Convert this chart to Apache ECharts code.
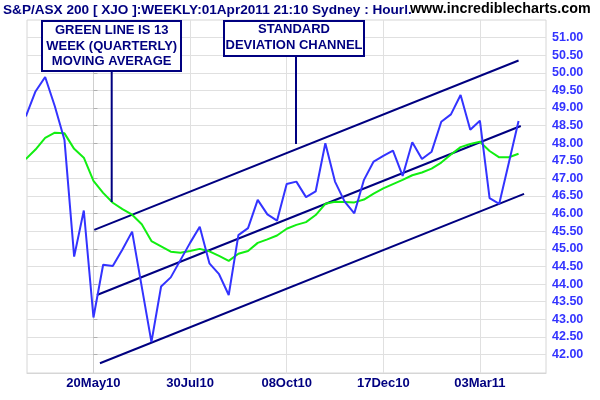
<!DOCTYPE html>
<html>
<head>
<meta charset="utf-8">
<script src="https://cdn.jsdelivr.net/npm/echarts@6/dist/echarts.min.js"></script>
<style>html,body{margin:0;padding:0;background:#fff}#c{width:600px;height:400px}</style>
</head>
<body>
<div id="c"></div>
<script>
// Week index: 0 = week of 20May10, weekly steps
const firstWeek = -7;
const price = [48.76, 49.47, 49.88, 49.05, 48.09, 44.78, 46.09,
  43.05, 44.55, 44.51, 44.98, 45.49, 43.92, 42.35, 43.93, 44.19, 44.68,
  45.17, 45.63, 44.59, 44.28, 43.69, 45.39, 45.59, 46.39, 45.98, 45.80,
  46.84, 46.91, 46.47, 46.63, 48.00, 46.91, 46.34, 46.01, 46.96, 47.48,
  47.64, 47.79, 47.07, 48.03, 47.55, 47.76, 48.61, 48.82, 49.37, 48.38,
  48.64, 46.44, 46.28, 47.45, 48.63];
const ma13 = [47.55, 47.82, 48.15, 48.30, 48.28, 47.84, 47.59,
  46.93, 46.59, 46.31, 46.13, 45.97, 45.70, 45.22, 45.07, 44.92, 44.89,
  44.94, 45.00, 44.93, 44.80, 44.66, 44.86, 44.94, 45.17, 45.27, 45.38,
  45.57, 45.68, 45.76, 45.96, 46.28, 46.34, 46.33, 46.32, 46.40, 46.57,
  46.72, 46.84, 46.96, 47.09, 47.17, 47.28, 47.45, 47.68, 47.89, 47.98,
  48.04, 47.78, 47.60, 47.60, 47.70];
// Standard deviation channel: [week, value] end points
const chanUpper = [[0.08, 45.54], [44.0, 50.35]];
const chanMiddle = [[0.36, 43.69], [44.23, 48.49]];
const chanLower = [[0.67, 41.75], [44.57, 46.56]];
const xTickWeeks = [0, 10, 20, 30, 40];
const xTickLabels = ['20May10', '30Jul10', '08Oct10', '17Dec10', '03Mar11'];
const yTicks = [42, 42.5, 43, 43.5, 44, 44.5, 45, 45.5, 46, 46.5, 47, 47.5, 48, 48.5, 49, 49.5, 50, 50.5, 51];
const titleText = 'S&P/ASX 200 [ XJO ]:WEEKLY:01Apr2011 21:10 Sydney : Hourl.';
const siteText = 'www.incrediblecharts.com';
const note1 = ['GREEN LINE IS 13', 'WEEK (QUARTERLY)', 'MOVING AVERAGE'];
const note2 = ['STANDARD', 'DEVIATION CHANNEL'];

const FONT = '"Liberation Sans", Arial, sans-serif';
const NAVY = '#000080';
const pts = arr => arr.map((v, i) => [firstWeek + i, v]);

const chart = echarts.init(document.getElementById('c'), null, {renderer: 'canvas'});
const lineS = (data, color, w, z) => ({
  type: 'line', data, showSymbol: false, symbol: 'none', silent: true, z,
  lineStyle: {color, width: w}, itemStyle: {color}, animation: false
});
chart.setOption({
  animation: false,
  backgroundColor: '#ffffff',
  grid: {left: 27, right: 54, top: 20, bottom: 27, show: true, borderColor: '#d6d6d6', borderWidth: 1},
  xAxis: {
    type: 'value', min: -6.88, max: 46.84,
    axisLine: {show: true, lineStyle: {color: '#d6d6d6'}},
    axisTick: {show: false, customValues: xTickWeeks},
    axisLabel: {customValues: xTickWeeks, formatter: v => xTickLabels[xTickWeeks.indexOf(v)],
      color: NAVY, fontWeight: 'bold', fontSize: 13, fontFamily: FONT, margin: 4},
    splitLine: {show: true, lineStyle: {color: '#e0e0e0', width: 1}}
  },
  yAxis: {
    type: 'value', position: 'right', min: 41.474, max: 51.5, scale: true,
    axisLine: {show: true, lineStyle: {color: '#cfcfcf'}},
    axisTick: {show: true, length: 4, customValues: yTicks, lineStyle: {color: '#b0b0b0'}},
    axisLabel: {customValues: yTicks, formatter: v => v.toFixed(2),
      color: '#3333ff', fontWeight: 'bold', fontSize: 12.5, fontFamily: FONT, margin: 6},
    splitLine: {show: true, lineStyle: {color: '#e0e0e0', width: 1}}
  },
  series: [
    lineS(chanUpper, NAVY, 2, 3),
    lineS(chanMiddle, NAVY, 2, 3),
    lineS(chanLower, NAVY, 2, 3),
    lineS(pts(ma13), '#11ee11', 2, 4),
    lineS(pts(price), '#3333ff', 2, 5)
  ],
  graphic: [
    {type: 'text', left: 3, top: 3, z: 100, style: {text: titleText, fill: NAVY, font: 'bold 13.6px ' + FONT}},
    {type: 'text', left: 410, top: 2, z: 101, style: {text: siteText, fill: '#000000', font: 'bold 14.3px ' + FONT}},
    {type: 'line', z: 100, shape: {x1: 111.7, y1: 71, x2: 111.7, y2: 202}, style: {stroke: NAVY, lineWidth: 2}},
    {type: 'line', z: 100, shape: {x1: 296, y1: 56, x2: 296, y2: 144}, style: {stroke: NAVY, lineWidth: 2}},
    {type: 'rect', z: 101, shape: {x: 42, y: 21, width: 139, height: 50}, style: {fill: '#fff', stroke: NAVY, lineWidth: 2}},
    {type: 'text', z: 102, x: 111.7, y: 46, style: {text: note1.join('\n'), fill: NAVY, font: 'bold 13px ' + FONT, align: 'center', verticalAlign: 'middle', lineHeight: 15.7}},
    {type: 'rect', z: 101, shape: {x: 224, y: 21, width: 140, height: 35}, style: {fill: '#fff', stroke: NAVY, lineWidth: 2}},
    {type: 'text', z: 102, x: 294, y: 37.5, style: {text: note2.join('\n'), fill: NAVY, font: 'bold 13px ' + FONT, align: 'center', verticalAlign: 'middle', lineHeight: 16}}
  ]
});
</script>
</body>
</html>
